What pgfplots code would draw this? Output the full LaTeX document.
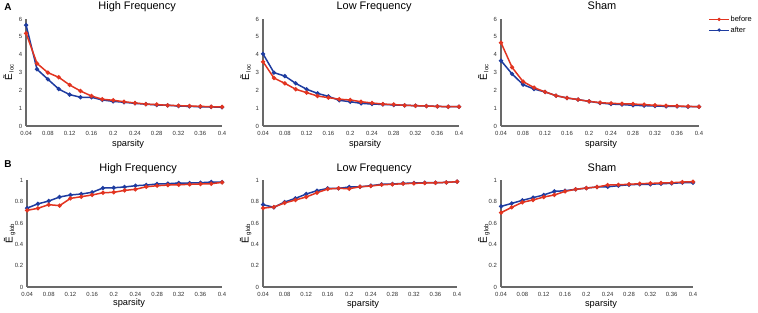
\documentclass[border=0pt]{standalone}
\usepackage{pgfplots}
\usepackage{pgfplotstable}
\pgfplotsset{compat=1.18}
\usepackage{fontspec}
\setmainfont{Liberation Sans}
\definecolor{cred}{RGB}{226,52,32}
\definecolor{cblue}{RGB}{30,60,160}
\definecolor{caxis}{RGB}{105,105,105}

\pgfplotstableread{
x before after
0.04 5.20 5.66
0.06 3.51 3.18
0.08 2.99 2.62
0.10 2.73 2.07
0.12 2.30 1.76
0.14 1.96 1.61
0.16 1.68 1.61
0.18 1.50 1.46
0.20 1.44 1.38
0.22 1.36 1.33
0.24 1.29 1.27
0.26 1.23 1.22
0.28 1.20 1.18
0.30 1.16 1.16
0.32 1.14 1.12
0.34 1.12 1.10
0.36 1.10 1.08
0.38 1.08 1.07
0.40 1.07 1.05
}\locHF
\pgfplotstableread{
x before after
0.04 3.60 4.04
0.06 2.69 2.99
0.08 2.39 2.80
0.10 2.06 2.39
0.12 1.87 2.06
0.14 1.68 1.83
0.16 1.59 1.66
0.18 1.50 1.44
0.20 1.46 1.36
0.22 1.36 1.27
0.24 1.29 1.23
0.26 1.23 1.21
0.28 1.20 1.18
0.30 1.16 1.16
0.32 1.14 1.14
0.34 1.12 1.12
0.36 1.10 1.10
0.38 1.08 1.08
0.40 1.08 1.08
}\locLF
\pgfplotstableread{
x before after
0.04 4.67 3.66
0.06 3.29 2.92
0.08 2.49 2.32
0.10 2.15 2.07
0.12 1.91 1.91
0.14 1.70 1.70
0.16 1.57 1.57
0.18 1.48 1.48
0.20 1.38 1.38
0.22 1.31 1.29
0.24 1.27 1.23
0.26 1.25 1.20
0.28 1.23 1.16
0.30 1.20 1.14
0.32 1.16 1.12
0.34 1.14 1.10
0.36 1.12 1.10
0.38 1.10 1.08
0.40 1.08 1.08
}\locSH
\pgfplotstableread{
x before after
0.04 0.719 0.740
0.06 0.738 0.780
0.08 0.772 0.806
0.10 0.763 0.844
0.12 0.831 0.863
0.14 0.847 0.872
0.16 0.863 0.888
0.18 0.884 0.928
0.20 0.888 0.931
0.22 0.906 0.938
0.24 0.916 0.950
0.26 0.940 0.956
0.28 0.950 0.966
0.30 0.956 0.969
0.32 0.959 0.975
0.34 0.963 0.975
0.36 0.966 0.978
0.38 0.969 0.984
0.40 0.981 0.984
}\globHF
\pgfplotstableread{
x before after
0.04 0.740 0.772
0.06 0.750 0.747
0.08 0.788 0.797
0.10 0.816 0.831
0.12 0.844 0.872
0.14 0.884 0.903
0.16 0.919 0.925
0.18 0.925 0.925
0.20 0.922 0.938
0.22 0.940 0.940
0.24 0.947 0.950
0.26 0.959 0.963
0.28 0.963 0.966
0.30 0.969 0.972
0.32 0.972 0.975
0.34 0.975 0.978
0.36 0.978 0.978
0.38 0.981 0.981
0.40 0.988 0.988
}\globLF
\pgfplotstableread{
x before after
0.04 0.697 0.756
0.06 0.747 0.784
0.08 0.794 0.813
0.10 0.816 0.838
0.12 0.844 0.863
0.14 0.863 0.897
0.16 0.897 0.903
0.18 0.916 0.916
0.20 0.928 0.928
0.22 0.938 0.938
0.24 0.956 0.940
0.26 0.959 0.950
0.28 0.963 0.959
0.30 0.969 0.963
0.32 0.972 0.963
0.34 0.975 0.969
0.36 0.978 0.972
0.38 0.984 0.978
0.40 0.988 0.978
}\globSH

\pgfplotsset{
  myax/.style={
    scale only axis, width=196bp, height=107bp,
    xmin=0.04, xmax=0.4,
    axis x line*=bottom, axis y line*=left,
    axis line style={caxis, line width=1.4bp, -},
    xtick={0.04,0.08,0.12,0.16,0.2,0.24,0.28,0.32,0.36,0.4},
    xticklabels={0.04,0.08,0.12,0.16,0.2,0.24,0.28,0.32,0.36,0.4},
    major tick length=0pt,
    tick label style={font=\fontsize{6}{6}\selectfont, text=black!80},
    xticklabel style={yshift=-1.5bp},
    yticklabel style={xshift=-0.5bp},
    clip=false,
    ylabel style={at={(axis description cs:-0.09,0.5)}, anchor=center, rotate=0},
  },
  locax/.style={myax, ymin=0, ymax=6, ytick={0,1,2,3,4,5,6},
    yticklabels={0,1,2,3,4,5,6},
    ylabel={\fontsize{10}{10}\selectfont \~{E}\,\raisebox{-1.5bp}{\fontsize{6}{6}\selectfont loc}}},
  globax/.style={myax, ymin=0, ymax=1, ytick={0,0.2,0.4,0.6,0.8,1},
    yticklabels={0,0.2,0.4,0.6,0.8,1},
    ylabel={\fontsize{10}{10}\selectfont \~{E}\,\raisebox{-1.5bp}{\fontsize{6}{6}\selectfont glob}}},
  bef/.style={cred, line width=1.5bp, mark=*, mark size=1.3bp, mark options={solid}},
  aft/.style={cblue, line width=1.5bp, mark=*, mark size=1.3bp, mark options={solid}},
}

\begin{document}
\begin{tikzpicture}[x=1bp,y=1bp]
\path (0,0) rectangle (758,313);

% Letters
\node[anchor=base west, font=\fontsize{10}{10}\selectfont\bfseries, inner sep=0] at (4,302) {A};
\node[anchor=base west, font=\fontsize{10}{10}\selectfont\bfseries, inner sep=0] at (4,145) {B};

% Titles
\node[anchor=base, font=\fontsize{11}{11}\selectfont, inner sep=0] at (137,303.5) {High Frequency};
\node[anchor=base, font=\fontsize{11}{11}\selectfont, inner sep=0] at (374,303.5) {Low Frequency};
\node[anchor=base, font=\fontsize{11}{11}\selectfont, inner sep=0] at (602,303.5) {Sham};
\node[anchor=base, font=\fontsize{11}{11}\selectfont, inner sep=0] at (138,141.5) {High Frequency};
\node[anchor=base, font=\fontsize{11}{11}\selectfont, inner sep=0] at (374,141.5) {Low Frequency};
\node[anchor=base, font=\fontsize{11}{11}\selectfont, inner sep=0] at (602,141.5) {Sham};

% x labels
\node[anchor=base, font=\fontsize{9.3}{9.3}\selectfont, inner sep=0] at (128,166) {sparsity};
\node[anchor=base, font=\fontsize{9.3}{9.3}\selectfont, inner sep=0] at (365,166) {sparsity};
\node[anchor=base, font=\fontsize{9.3}{9.3}\selectfont, inner sep=0] at (601,166) {sparsity};
\node[anchor=base, font=\fontsize{9.3}{9.3}\selectfont, inner sep=0] at (129,7) {sparsity};
\node[anchor=base, font=\fontsize{9.3}{9.3}\selectfont, inner sep=0] at (363,6.5) {sparsity};
\node[anchor=base, font=\fontsize{9.3}{9.3}\selectfont, inner sep=0] at (601,6.5) {sparsity};

% Row A
\begin{axis}[locax, at={(26bp,187bp)}, anchor=south west]
\addplot[aft] table[x=x,y=after]{\locHF};
\addplot[bef] table[x=x,y=before]{\locHF};
\end{axis}
\begin{axis}[locax, at={(263bp,187bp)}, anchor=south west]
\addplot[aft] table[x=x,y=after]{\locLF};
\addplot[bef] table[x=x,y=before]{\locLF};
\end{axis}
\begin{axis}[locax, at={(501bp,187bp)}, anchor=south west, width=198bp,
  legend style={at={(axis description cs:1.048,1.04)}, anchor=north west, draw=none, fill=none,
    font=\fontsize{7.5}{7.5}\selectfont, inner sep=0pt, row sep=1.8bp,
    nodes={inner sep=1pt}},
  legend cell align=left,
  legend image code/.code={\draw[#1] (0bp,0bp) -- (20bp,0bp); \fill[#1] (10bp,0bp) circle[radius=1.2bp];},
]
\addlegendimage{cred, line width=0.9bp}
\addlegendentry{before}
\addlegendimage{cblue, line width=0.9bp}
\addlegendentry{after}
\addplot[aft, forget plot] table[x=x,y=after]{\locSH};
\addplot[bef, forget plot] table[x=x,y=before]{\locSH};
\end{axis}

% Row B
\begin{axis}[globax, at={(27bp,26bp)}, anchor=south west, width=195bp, height=106.6bp]
\addplot[aft] table[x=x,y=after]{\globHF};
\addplot[bef] table[x=x,y=before]{\globHF};
\end{axis}
\begin{axis}[globax, at={(263bp,26bp)}, anchor=south west, width=194bp, height=106.6bp]
\addplot[aft] table[x=x,y=after]{\globLF};
\addplot[bef] table[x=x,y=before]{\globLF};
\end{axis}
\begin{axis}[globax, at={(501bp,26bp)}, anchor=south west, width=192bp, height=106.6bp]
\addplot[aft] table[x=x,y=after]{\globSH};
\addplot[bef] table[x=x,y=before]{\globSH};
\end{axis}
\end{tikzpicture}
\end{document}
